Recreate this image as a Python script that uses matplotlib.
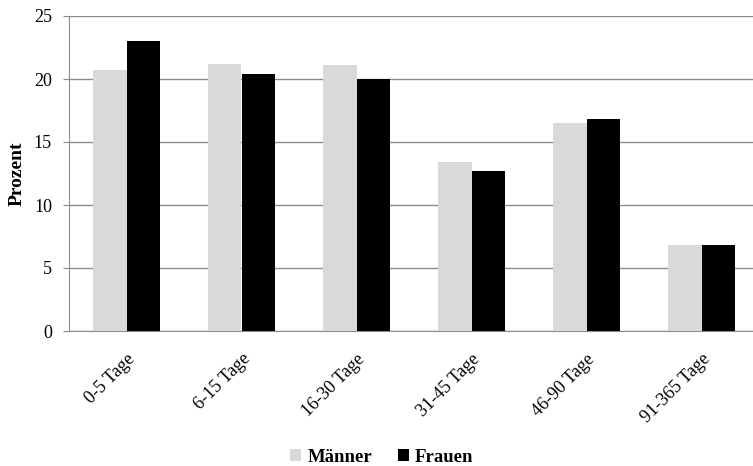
import matplotlib
matplotlib.use("Agg")
import matplotlib.pyplot as plt
import numpy as np

categories = ["0-5 Tage", "6-15 Tage", "16-30 Tage", "31-45 Tage", "46-90 Tage", "91-365 Tage"]
maenner = [20.7, 21.2, 21.1, 13.4, 16.5, 6.8]
frauen = [23.0, 20.4, 20.0, 12.7, 16.85, 6.8]

plt.rcParams['font.family'] = ['Liberation Serif', 'DejaVu Serif']

fig = plt.figure(figsize=(7.53, 4.66), dpi=100)
ax = fig.add_axes([69/753, 135/466, 690/753, 315/466])

x = np.arange(len(categories))
w = 0.29
ax.bar(x - w/2, maenner, w, color="#d9d9d9", label="Männer", zorder=3)
ax.bar(x + w/2, frauen, w, color="black", label="Frauen", zorder=3)

ax.set_xlim(-0.5, len(categories) - 0.5)
ax.set_ylim(0, 25)
ax.set_yticks([0, 5, 10, 15, 20, 25])
ax.yaxis.grid(True, color="#8c8c8c", linewidth=1, zorder=0)
ax.set_axisbelow(True)
for s in ["top", "right"]:
    ax.spines[s].set_visible(False)
ax.spines["left"].set_color("#8c8c8c")
ax.spines["bottom"].set_color("#8c8c8c")
ax.tick_params(axis="y", length=4.3, color="#8c8c8c", labelsize=13, pad=8)
ax.tick_params(axis="x", length=0, labelsize=13, pad=14)
ax.set_xticks(x)
ax.set_xticklabels(categories, rotation=45, ha="right", rotation_mode="anchor")
ax.set_ylabel("Prozent", fontweight="bold", fontsize=14, labelpad=6)

fig.legend(loc="center", bbox_to_anchor=(382/753, 1 - 457/466), ncol=2, frameon=False,
           prop={"weight": "bold", "size": 13.5}, handlelength=0.55, handleheight=0.55,
           handletextpad=0.35, columnspacing=1.4, borderpad=0.1)

fig.savefig("out.png", dpi=100)
